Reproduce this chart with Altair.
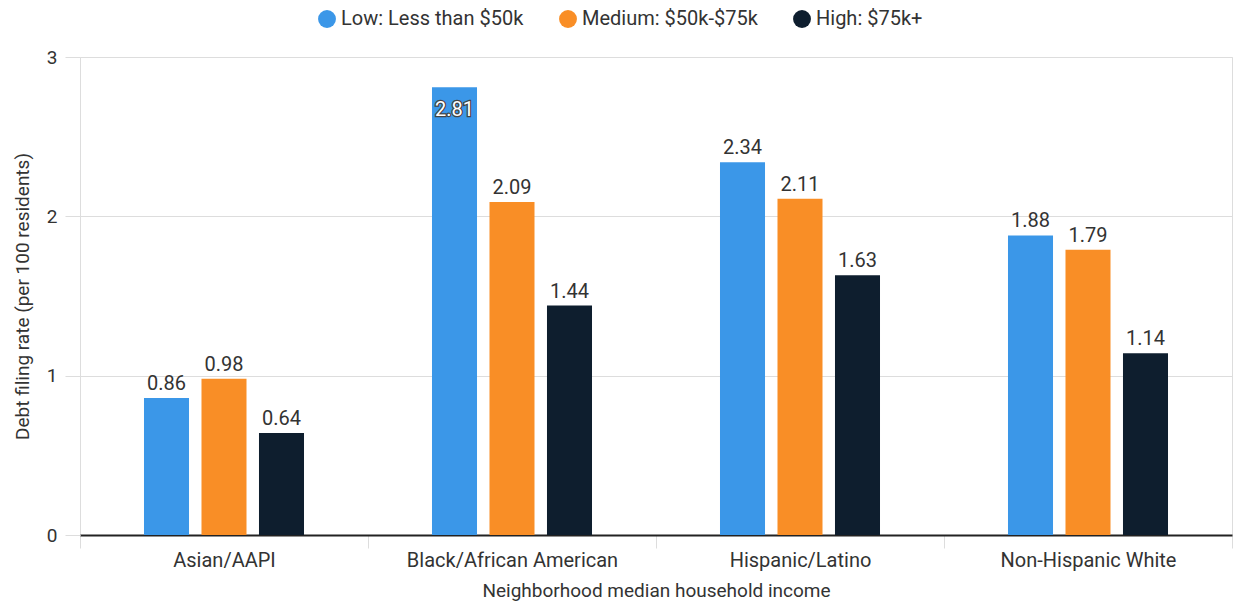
import altair as alt
import pandas as pd

groups = ["Asian/AAPI", "Black/African American", "Hispanic/Latino", "Non-Hispanic White"]
series = ["Low: Less than $50k", "Medium: $50k-$75k", "High: $75k+"]
low = [0.86, 2.81, 2.34, 1.88]
medium = [0.98, 2.09, 2.11, 1.79]
high = [0.64, 1.44, 1.63, 1.14]
colors = ["#3b97e8", "#f98e26", "#0e1e2e"]

rows = []
for i, g in enumerate(groups):
    for s, vals in zip(series, [low, medium, high]):
        rows.append({"group": g, "series": s, "value": vals[i], "label": f"{vals[i]:.2f}"})
df = pd.DataFrame(rows)

FONT = "Roboto"
TXT = "#333333"

x = alt.X("group:N", sort=groups, title="Neighborhood median household income",
          scale=alt.Scale(paddingInner=0, paddingOuter=0),
          axis=alt.Axis(labelAngle=0, labelFontSize=20, labelColor=TXT, labelFont=FONT,
                        labelLimit=400,
                        titleFontSize=19, titleColor=TXT, titleFont=FONT, titleFontWeight="normal",
                        titlePadding=11, tickBand="extent", tickSize=13, tickColor="#dddddd",
                        labelPadding=2, domainColor="#222222", domainWidth=2, grid=False))
# padding slots on each side of the three real series keep the bars grouped tightly
xo = alt.XOffset("series:N",
                 scale=alt.Scale(domain=["_pad_left"] + series + ["_pad_right"],
                                 paddingInner=0.217, paddingOuter=0.113))
y = alt.Y("value:Q", title="Debt filing rate (per 100 residents)",
          scale=alt.Scale(domain=[0, 3], nice=False),
          axis=alt.Axis(values=[0, 1, 2, 3], format="d", labelFontSize=19, labelColor=TXT,
                        labelFont=FONT, titleFontSize=19, titleColor=TXT, titleFont=FONT,
                        titleFontWeight="normal", titlePadding=14, domain=False, tickSize=15,
                        tickColor="#dddddd", gridColor="#dddddd", labelPadding=8))
color = alt.Color("series:N", sort=series, scale=alt.Scale(domain=series, range=colors),
                  legend=alt.Legend(title=None, orient="none", legendX=237, legendY=-48,
                                    direction="horizontal", symbolType="circle", symbolSize=320,
                                    labelFontSize=20, labelFont=FONT, labelColor=TXT,
                                    labelLimit=400, columnPadding=34, symbolStrokeWidth=0))

bars = alt.Chart(df).mark_bar().encode(x=x, xOffset=xo, y=y, color=color)

above = alt.Chart(df).transform_filter("datum.value < 2.6").mark_text(
    baseline="alphabetic", dy=-8, fontSize=20, font=FONT, color=TXT
).encode(x=x, xOffset=xo, y="value:Q", text="label:N")

inside_halo = alt.Chart(df).transform_filter("datum.value >= 2.6").mark_text(
    baseline="alphabetic", dy=29, fontSize=20, font=FONT, color="#444444",
    stroke="#444444", strokeWidth=2.5
).encode(x=x, xOffset=xo, y="value:Q", text="label:N")

inside = alt.Chart(df).transform_filter("datum.value >= 2.6").mark_text(
    baseline="alphabetic", dy=29, fontSize=20, font=FONT, color="white"
).encode(x=x, xOffset=xo, y="value:Q", text="label:N")

chart = (bars + above + inside_halo + inside).properties(
    width=1152, height=478,
    autosize=alt.AutoSizeParams(type="none"),
    padding={"left": 80, "top": 57, "right": 2, "bottom": 69},
).configure_view(stroke=None).configure(background="white")

chart.save("out.html", embed_options={"renderer": "svg", "actions": False})
